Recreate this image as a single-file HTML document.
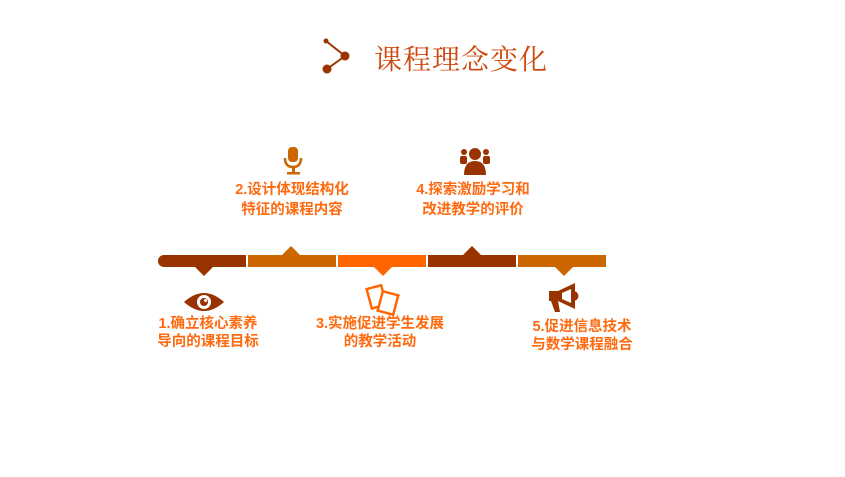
<!DOCTYPE html>
<html><head><meta charset="utf-8"><style>
*{margin:0;padding:0;box-sizing:border-box}
body{width:845px;height:477px;background:#fff;position:relative;overflow:hidden;font-family:"Liberation Sans","Noto Sans CJK SC",sans-serif}
.t{position:absolute;color:#cc4a10;font-size:28px;left:374px;top:38px;letter-spacing:1px;font-family:"Liberation Serif","Noto Serif CJK SC",serif}
.seg{position:absolute;top:255px;height:12px;width:88px}
.tri{position:absolute;width:0;height:0;border-left:9px solid transparent;border-right:9px solid transparent}
.lb{position:absolute;color:#ff6a10;font-size:14.5px;font-weight:bold;text-align:center;line-height:20px;width:160px}
.ic{position:absolute}
</style></head><body>
<svg class="ic" style="left:318px;top:36px" width="36" height="40"><line x1="8" y1="5" x2="27" y2="20" stroke="#993300" stroke-width="2"/><line x1="27" y1="20" x2="9" y2="33" stroke="#993300" stroke-width="2"/><circle cx="8" cy="5" r="2.5" fill="#993300"/><circle cx="27" cy="20" r="4.5" fill="#993300"/><circle cx="9" cy="33" r="4.5" fill="#993300"/></svg>
<div class="t">课程理念变化</div>

<div class="seg" style="left:158px;background:#993300;border-radius:6px 0 0 6px"></div>
<div class="seg" style="left:248px;background:#cc6600"></div>
<div class="seg" style="left:338px;background:#ff6600"></div>
<div class="seg" style="left:428px;background:#993300"></div>
<div class="seg" style="left:518px;background:#cc6600"></div>
<div class="tri" style="left:195px;top:267px;border-top:9px solid #993300"></div>
<div class="tri" style="left:282px;top:246px;border-bottom:9px solid #cc6600"></div>
<div class="tri" style="left:374px;top:267px;border-top:9px solid #ff6600"></div>
<div class="tri" style="left:463px;top:246px;border-bottom:9px solid #993300"></div>
<div class="tri" style="left:555px;top:267px;border-top:9px solid #cc6600"></div>

<svg class="ic" style="left:282px;top:146px" width="22" height="32"><rect x="6" y="1" width="10" height="15" rx="4" fill="#cc6600"/><path d="M3 12 Q3 21 11 21 Q19 21 19 12" fill="none" stroke="#cc6600" stroke-width="2.5"/><rect x="10" y="21" width="3" height="6" fill="#cc6600"/><rect x="5" y="26" width="13" height="2.5" fill="#cc6600"/></svg>
<svg class="ic" style="left:459px;top:146px" width="32" height="30"><circle cx="16" cy="8" r="6" fill="#993300"/><path d="M5 29 Q5 15 16 15 Q27 15 27 29Z" fill="#993300"/><circle cx="5" cy="6" r="3" fill="#993300"/><circle cx="27" cy="6" r="3" fill="#993300"/><rect x="1" y="10" width="7" height="8" rx="2" fill="#993300"/><rect x="24" y="10" width="7" height="8" rx="2" fill="#993300"/></svg>
<svg class="ic" style="left:183px;top:290px" width="42" height="24"><path d="M1 12 Q21 -6 41 12 Q21 30 1 12Z" fill="#993300"/><circle cx="21" cy="12" r="7" fill="#fff"/><circle cx="21" cy="12" r="4" fill="#993300"/><circle cx="22.5" cy="10.5" r="1.5" fill="#fff"/></svg>
<svg class="ic" style="left:365px;top:284px" width="36" height="34"><rect x="4" y="3" width="15" height="20" transform="rotate(-15 11 13)" fill="none" stroke="#ff6600" stroke-width="2.5"/><rect x="15" y="9" width="16" height="20" transform="rotate(15 23 19)" fill="#fff" stroke="#ff6600" stroke-width="2.5"/></svg>
<svg class="ic" style="left:547px;top:282px" width="34" height="34"><rect x="2" y="9" width="9" height="10" fill="#993300"/><path d="M11 9 L28 1 L28 27 L11 19Z" fill="#993300"/><path d="M15 11 L24 7 L24 21 L15 17Z" fill="#fff"/><path d="M28 10 Q33 14 28 18" fill="#993300" stroke="#993300" stroke-width="2"/><path d="M4 19 L11 19 L13 30 L8 30Z" fill="#993300"/></svg>

<div class="lb" style="left:212px;top:180px">2.设计体现结构化<br>特征的课程内容</div>
<div class="lb" style="left:393px;top:180px">4.探索激励学习和<br>改进教学的评价</div>
<div class="lb" style="left:128px;top:315px;line-height:18px">1.确立核心素养<br>导向的课程目标</div>
<div class="lb" style="left:300px;top:315px;line-height:18px">3.实施促进学生发展<br>的教学活动</div>
<div class="lb" style="left:502px;top:318px;line-height:18px">5.促进信息技术<br>与数学课程融合</div>
</body></html>
